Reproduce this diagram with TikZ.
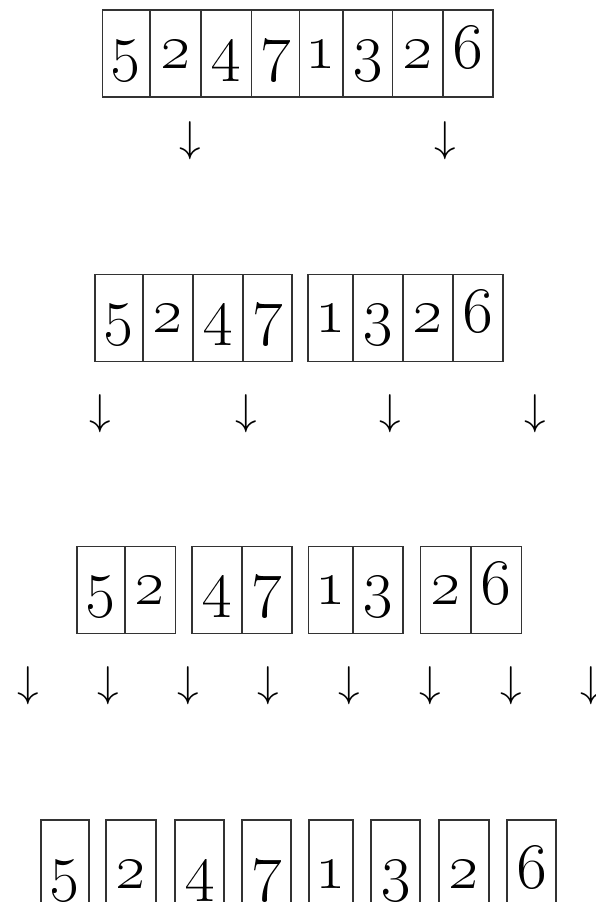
\RequirePackage{fix-cm}
\documentclass[tikz,border=0pt]{standalone}
\tikzset{
  cellA/.style={draw=black!80, line width=1.2pt, inner sep=0pt, minimum height=87pt,
    text height=33pt, text depth=4pt, font=\fontsize{65}{70}\selectfont},
  cellB/.style={cellA, text height=52pt, text depth=3pt},
  darrow/.style={inner sep=0pt, font=\fontsize{43}{48}\selectfont}
}
\newcommand{\mycell}[6][cellA]{%
  \node[#1, minimum width=#4pt] (#2) at (#3,#5) {\oldstylenums{#6}};}
\newcommand{\myarrow}[3]{\node[darrow] (#1) at (#2,#3) {$\downarrow$};}
\begin{document}
\begin{tikzpicture}[x=1pt,y=-1pt]
\useasboundingbox (0,0) rectangle (596,902);
% row 1
\mycell{ra1}{126.25}{47.5}{53.5}{5}
\mycell{ra2}{175.5}{51}{53.5}{2}
\mycell{ra3}{226.25}{50.5}{53.5}{4}
\mycell{ra4}{275.5}{48}{53.5}{7}
\mycell{ra5}{321.25}{43.5}{53.5}{1}
\mycell{ra6}{367.75}{49.5}{53.5}{3}
\mycell{ra7}{417.75}{50.5}{53.5}{2}
\mycell{ra8}{468}{50}{53.5}{6}
\myarrow{aa1}{190}{141}
\myarrow{aa2}{445}{141}
% row 2
\mycell{rb1}{119}{48}{318}{5}
\mycell{rb2}{168}{50}{318}{2}
\mycell{rb3}{218}{50}{318}{4}
\mycell{rb4}{267.5}{49}{318}{7}
\mycell{rb5}{330.5}{45}{318}{1}
\mycell{rb6}{378}{50}{318}{3}
\mycell{rb7}{428}{50}{318}{2}
\mycell{rb8}{478}{50}{318}{6}
\myarrow{ab1}{100}{413.5}
\myarrow{ab2}{246}{413.5}
\myarrow{ab3}{390}{413.5}
\myarrow{ab4}{535}{413.5}
% row 3
\mycell{rc1}{101}{48}{590}{5}
\mycell{rc2}{150.25}{50.5}{590}{2}
\mycell{rc3}{217}{50}{590}{4}
\mycell{rc4}{267}{50}{590}{7}
\mycell{rc5}{330.75}{44.5}{590}{1}
\mycell{rc6}{378}{50}{590}{3}
\mycell{rc7}{445.75}{50.5}{590}{2}
\mycell{rc8}{496.25}{50.5}{590}{6}
\myarrow{ac1}{28}{686}
\myarrow{ac2}{108}{686}
\myarrow{ac3}{188}{686}
\myarrow{ac4}{268}{686}
\myarrow{ac5}{349}{686}
\myarrow{ac6}{430}{686}
\myarrow{ac7}{511}{686}
\myarrow{ac8}{591}{686}
% row 4
\mycell[cellB]{rd1}{65}{48}{863.5}{5}
\mycell[cellB]{rd2}{131}{50}{863.5}{2}
\mycell[cellB]{rd3}{199.5}{49}{863.5}{4}
\mycell[cellB]{rd4}{266.5}{49}{863.5}{7}
\mycell[cellB]{rd5}{331}{44}{863.5}{1}
\mycell[cellB]{rd6}{395.5}{49}{863.5}{3}
\mycell[cellB]{rd7}{464}{50}{863.5}{2}
\mycell[cellB]{rd8}{531.5}{49}{863.5}{6}
\end{tikzpicture}
\end{document}
